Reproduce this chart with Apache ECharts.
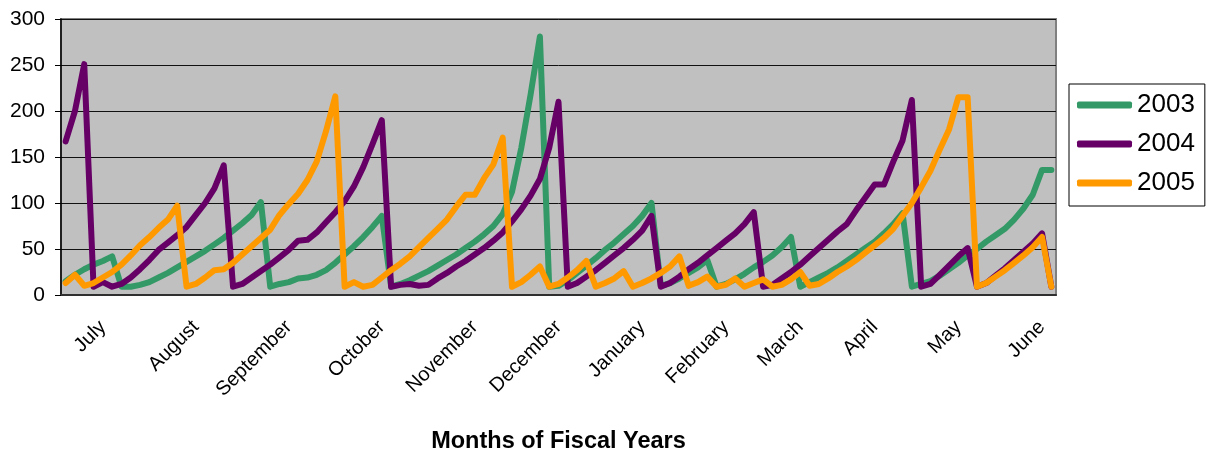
<!DOCTYPE html>
<html>
<head>
<meta charset="utf-8">
<script src="https://cdn.jsdelivr.net/npm/echarts@6/dist/echarts.min.js"></script>
<style>
  html, body { margin: 0; padding: 0; background: #ffffff; }
  #chart { width: 1206px; height: 453px; }
</style>
</head>
<body>
<div id="chart"></div>
<script>
// Reporting periods across the fiscal year (July through June)
const periodCount = 107;
const monthNames = ['July', 'August', 'September', 'October', 'November', 'December',
                    'January', 'February', 'March', 'April', 'May', 'June'];
// period at which each month's label is shown
const monthPeriod = [4, 14, 24, 34, 44, 53, 62, 71, 79, 87, 96, 105];

const fy2003 = [
  15, 22, 28, 33, 37, 42, 9, 9, 11, 14,
  19, 24, 30, 36, 42, 48, 55, 62, 70, 78,
  87, 101, 9, 12, 14, 18, 19, 22, 27, 35,
  44, 53, 63, 74, 86, 9, 12, 16, 21, 26,
  32, 38, 44, 51, 58, 66, 75, 88, 112, 160,
  218, 281, 9, 10, 16, 24, 32, 40, 49, 57,
  66, 75, 86, 100, 10, 13, 18, 24, 30, 38,
  9, 12, 17, 23, 30, 36, 43, 52, 63, 9,
  14, 19, 24, 30, 37, 44, 51, 58, 67, 77,
  89, 9, 12, 15, 21, 28, 35, 43, 50, 58,
  65, 72, 82, 94, 109, 136, 136
];

const fy2004 = [
  167, 200, 251, 9, 14, 9, 12, 19, 28, 38,
  49, 57, 65, 74, 87, 100, 116, 141, 9, 12,
  19, 26, 33, 41, 49, 59, 60, 68, 79, 90,
  102, 118, 139, 164, 190, 9, 11, 12, 10, 11,
  18, 24, 31, 37, 44, 51, 59, 68, 80, 93,
  108, 126, 160, 210, 9, 13, 20, 27, 35, 43,
  51, 60, 70, 86, 9, 13, 20, 28, 35, 43,
  51, 59, 67, 77, 90, 9, 11, 18, 25, 33,
  42, 51, 60, 69, 77, 92, 106, 120, 120, 145,
  168, 212, 9, 12, 22, 32, 42, 51, 9, 13,
  21, 29, 38, 47, 56, 67, 9
];

const fy2005 = [
  13, 22, 10, 13, 19, 25, 33, 43, 54, 63,
  73, 82, 97, 9, 12, 19, 27, 28, 35, 44,
  53, 62, 71, 87, 99, 110, 125, 145, 178, 216,
  9, 14, 9, 11, 19, 27, 34, 42, 52, 62,
  72, 82, 96, 109, 109, 127, 142, 171, 9, 14,
  22, 31, 9, 12, 19, 27, 37, 9, 13, 18,
  26, 9, 13, 18, 24, 31, 42, 10, 14, 20,
  9, 11, 18, 9, 13, 17, 9, 11, 17, 25,
  10, 12, 18, 25, 31, 38, 46, 54, 62, 72,
  86, 100, 117, 135, 158, 180, 215, 215, 9, 13,
  20, 27, 35, 43, 52, 63, 9
];

const yTicks = { min: 0, max: 300, step: 50 };

// category labels: blank except where a month label sits
const categories = Array.from({ length: periodCount }, () => '');
monthPeriod.forEach((p, k) => { categories[p] = monthNames[k]; });

const FONT = '"Liberation Sans", Arial, sans-serif';

function lineSeries(name, data, color) {
  return {
    name: name,
    type: 'line',
    data: data,
    symbol: 'none',
    showSymbol: false,
    animation: false,
    lineStyle: { color: color, width: 6, join: 'round', cap: 'round' },
    itemStyle: { color: color }
  };
}

const chart = echarts.init(document.getElementById('chart'), null, { renderer: 'canvas' });
chart.setOption({
  animation: false,
  backgroundColor: '#ffffff',
  grid: {
    left: 61, right: 150, top: 19, bottom: 158,
    outerBoundsMode: 'none',
    containLabel: false,
    show: true,
    backgroundColor: '#C0C0C0',
    borderColor: '#808080',
    borderWidth: 2
  },
  legend: {
    orient: 'vertical',
    left: 1069,
    top: 84,
    padding: [8, 10, 10, 8],
    borderColor: '#000000',
    borderWidth: 1,
    backgroundColor: '#ffffff',
    itemWidth: 55,
    itemHeight: 7,
    itemGap: 13,
    icon: 'roundRect',
    textStyle: { fontFamily: FONT, fontSize: 26, color: '#000000' },
    data: ['2003', '2004', '2005']
  },
  xAxis: {
    type: 'category',
    data: categories,
    boundaryGap: true,
    name: 'Months of Fiscal Years',
    nameLocation: 'middle',
    nameGap: 135,
    nameTextStyle: { fontFamily: FONT, fontSize: 23.5, fontWeight: 'bold', color: '#000000' },
    axisLine: { show: true, lineStyle: { color: '#303030', width: 2 } },
    axisTick: { show: false },
    axisLabel: {
      interval: 0,
      rotate: 45,
      margin: 29,
      fontFamily: FONT,
      fontSize: 20,
      color: '#000000'
    },
    splitLine: { show: false }
  },
  yAxis: {
    type: 'value',
    min: yTicks.min,
    max: yTicks.max,
    interval: yTicks.step,
    axisLine: { show: true, lineStyle: { color: '#000000', width: 1.5 } },
    axisTick: { show: true, inside: false, length: 6, lineStyle: { color: '#000000' } },
    axisLabel: { margin: 16, fontFamily: FONT, fontSize: 21, color: '#000000' },
    splitLine: { show: true, lineStyle: { color: '#111111', width: 1 } }
  },
  series: [
    lineSeries('2003', fy2003, '#339966'),
    lineSeries('2004', fy2004, '#660066'),
    lineSeries('2005', fy2005, '#FF9900')
  ]
});
</script>
</body>
</html>
